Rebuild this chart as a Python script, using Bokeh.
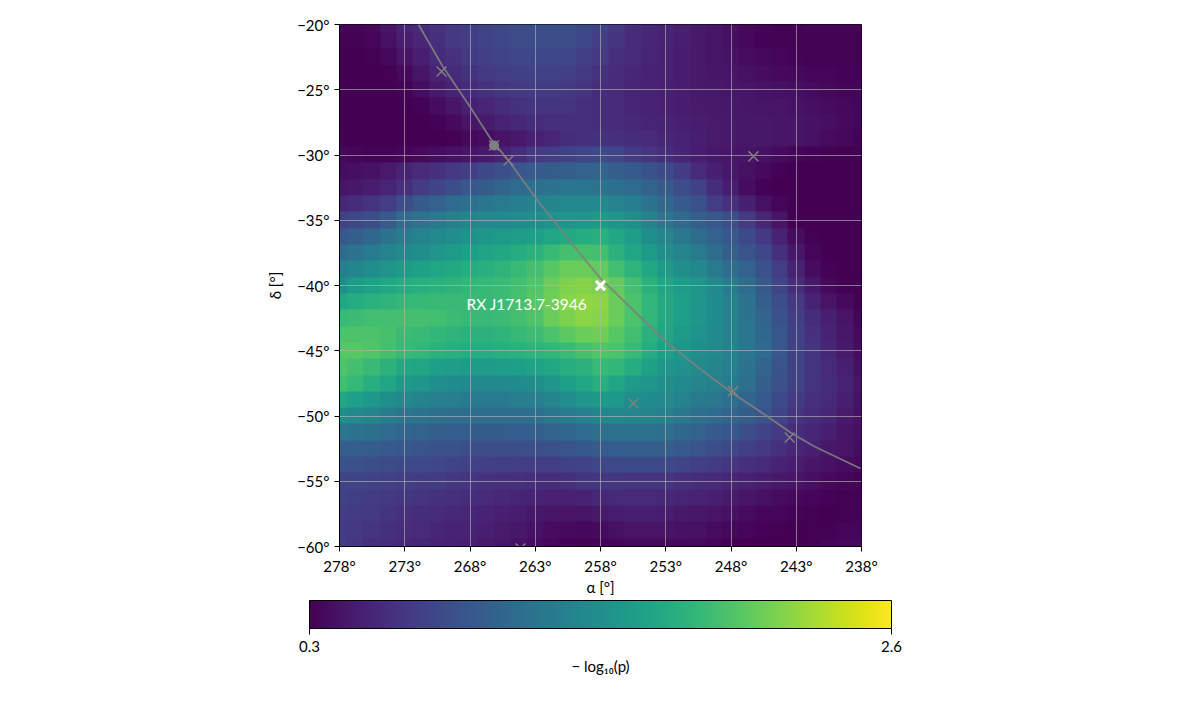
import numpy as np
from bokeh.plotting import figure
from bokeh.models import Range1d, LinearColorMapper, FixedTicker, Label, ColorBar, LinearAxis
from bokeh.palettes import Viridis256
from bokeh.embed import file_html
from bokeh.resources import INLINE

ra_ticks = [278, 273, 268, 263, 258, 253, 248, 243, 238]
dec_ticks = [-20, -25, -30, -35, -40, -45, -50, -55, -60]
ra_labels = ["278°", "273°", "268°", "263°", "258°", "253°", "248°", "243°", "238°"]
dec_labels = ["−20°", "−25°", "−30°", "−35°", "−40°", "−45°", "−50°", "−55°", "−60°"]
cbar_ticks = [0.3, 2.6]
cbar_labels = ["0.3", "2.6"]

# -log10(p), rows dec -20..-60, columns RA 278..238, 1.25 deg apart
pvals = [
 [.33,.33,.36,.44,.52,.58,.63,.68,.73,.77,.80,.83,.85,.85,.85,.82,.76,.68,.60,.56,.54,.50,.47,.44,.40,.36,.33,.31,.32,.33,.33,.33,.33],
 [.31,.31,.33,.40,.48,.55,.62,.68,.73,.77,.80,.83,.85,.85,.84,.80,.73,.65,.58,.55,.52,.49,.46,.43,.39,.35,.32,.31,.31,.31,.31,.31,.31],
 [.30,.30,.31,.35,.42,.49,.57,.63,.69,.74,.77,.79,.80,.80,.79,.74,.68,.61,.57,.54,.51,.48,.46,.43,.41,.37,.35,.33,.32,.31,.31,.31,.31],
 [.30,.30,.30,.31,.36,.43,.52,.58,.64,.69,.72,.74,.75,.75,.74,.69,.64,.59,.55,.53,.51,.48,.46,.44,.42,.40,.38,.36,.35,.34,.33,.32,.32],
 [.30,.30,.30,.30,.32,.38,.46,.52,.58,.63,.67,.69,.70,.70,.69,.65,.60,.57,.54,.52,.50,.48,.46,.45,.44,.42,.41,.40,.39,.37,.35,.34,.33],
 [.30,.30,.30,.30,.30,.32,.38,.44,.50,.55,.60,.63,.65,.65,.65,.62,.60,.57,.54,.52,.50,.48,.47,.46,.45,.44,.43,.42,.41,.39,.37,.35,.33],
 [.30,.30,.30,.30,.30,.30,.32,.36,.42,.47,.52,.56,.59,.61,.62,.62,.60,.58,.56,.54,.52,.50,.48,.47,.46,.45,.45,.44,.43,.41,.39,.36,.33],
 [.31,.30,.30,.30,.30,.30,.30,.31,.35,.38,.42,.46,.50,.55,.60,.63,.64,.62,.60,.57,.55,.52,.49,.47,.46,.45,.45,.44,.43,.40,.37,.35,.32],
 [.36,.34,.32,.32,.34,.36,.38,.40,.42,.46,.52,.60,.68,.72,.75,.78,.82,.78,.70,.65,.60,.54,.48,.45,.44,.42,.40,.37,.34,.32,.31,.30,.30],
 [.38,.39,.41,.47,.53,.58,.63,.68,.73,.80,.86,.91,.96,.98,1.0,1.02,1.05,1.0,.95,.88,.82,.70,.58,.50,.45,.40,.36,.32,.30,.30,.30,.30,.30],
 [.42,.45,.48,.54,.62,.70,.78,.85,.92,.98,1.05,1.10,1.15,1.18,1.2,1.2,1.18,1.14,1.1,1.03,.95,.85,.75,.60,.48,.38,.32,.30,.30,.30,.30,.30,.30],
 [.55,.60,.65,.72,.85,.95,1.02,1.10,1.15,1.2,1.25,1.28,1.32,1.36,1.38,1.38,1.38,1.32,1.28,1.18,1.08,.95,.88,.72,.62,.50,.40,.33,.30,.30,.30,.30,.30],
 [.75,.80,.85,.95,1.1,1.18,1.25,1.3,1.35,1.38,1.4,1.42,1.45,1.48,1.5,1.52,1.55,1.5,1.45,1.33,1.2,1.1,1.0,.92,.85,.70,.55,.42,.30,.30,.30,.30,.30],
 [.92,1.0,1.08,1.18,1.27,1.33,1.38,1.43,1.48,1.52,1.55,1.58,1.6,1.65,1.7,1.72,1.75,1.68,1.58,1.45,1.35,1.22,1.12,1.02,.92,.82,.68,.52,.38,.31,.30,.30,.30],
 [1.1,1.18,1.25,1.33,1.4,1.45,1.5,1.55,1.6,1.64,1.68,1.72,1.78,1.85,1.92,1.93,1.9,1.78,1.65,1.55,1.45,1.35,1.25,1.12,1.0,.90,.80,.62,.45,.34,.30,.30,.30],
 [1.28,1.35,1.43,1.5,1.57,1.62,1.66,1.7,1.73,1.76,1.8,1.85,1.92,2.0,2.07,2.08,2.05,1.9,1.8,1.68,1.55,1.45,1.37,1.25,1.12,1.02,.88,.72,.52,.38,.32,.30,.30],
 [1.45,1.55,1.62,1.67,1.72,1.75,1.78,1.8,1.82,1.84,1.87,1.92,1.98,2.08,2.15,2.17,2.15,2.05,1.92,1.78,1.65,1.57,1.5,1.38,1.25,1.12,.95,.78,.60,.45,.35,.31,.30],
 [1.65,1.72,1.77,1.8,1.83,1.84,1.85,1.85,1.85,1.86,1.88,1.93,2.0,2.1,2.18,2.22,2.2,2.08,1.95,1.82,1.7,1.6,1.52,1.42,1.3,1.18,1.0,.85,.68,.52,.42,.36,.31],
 [1.85,1.88,1.9,1.91,1.92,1.92,1.9,1.88,1.85,1.85,1.88,1.92,1.97,2.07,2.15,2.2,2.18,2.08,1.95,1.82,1.7,1.6,1.5,1.42,1.3,1.18,1.05,.88,.72,.60,.50,.42,.33],
 [1.95,1.96,1.96,1.93,1.88,1.85,1.82,1.8,1.78,1.78,1.8,1.84,1.88,1.95,2.02,2.08,2.1,2.0,1.9,1.78,1.65,1.55,1.48,1.4,1.3,1.2,1.07,.92,.75,.63,.52,.45,.36],
 [2.0,2.0,1.98,1.92,1.85,1.82,1.78,1.75,1.72,1.72,1.75,1.77,1.8,1.82,1.87,1.93,1.98,1.95,1.85,1.72,1.6,1.52,1.45,1.38,1.3,1.2,1.1,.92,.75,.65,.55,.47,.38],
 [1.97,1.92,1.85,1.78,1.7,1.65,1.6,1.58,1.56,1.56,1.58,1.6,1.63,1.68,1.73,1.78,1.85,1.82,1.72,1.62,1.52,1.46,1.4,1.35,1.28,1.18,1.05,.90,.75,.65,.57,.50,.40],
 [1.9,1.83,1.75,1.65,1.55,1.5,1.45,1.42,1.4,1.4,1.4,1.42,1.45,1.5,1.6,1.67,1.75,1.65,1.55,1.5,1.45,1.4,1.35,1.3,1.25,1.15,1.0,.87,.75,.65,.60,.52,.42],
 [1.68,1.6,1.53,1.45,1.38,1.33,1.3,1.28,1.26,1.26,1.26,1.28,1.3,1.35,1.43,1.5,1.55,1.53,1.45,1.42,1.38,1.33,1.25,1.22,1.15,1.05,.95,.82,.70,.62,.57,.50,.41],
 [1.45,1.4,1.35,1.27,1.2,1.18,1.15,1.13,1.12,1.12,1.12,1.13,1.15,1.2,1.25,1.3,1.36,1.37,1.35,1.33,1.3,1.22,1.15,1.1,1.05,.98,.90,.78,.65,.60,.55,.47,.40],
 [1.22,1.18,1.15,1.1,1.05,1.03,1.0,.99,.98,.98,.98,.99,1.0,1.03,1.06,1.1,1.15,1.17,1.18,1.17,1.15,1.08,1.03,.97,.92,.85,.78,.68,.60,.55,.50,.44,.39],
 [1.0,.99,.98,.95,.92,.90,.88,.87,.85,.85,.85,.85,.86,.87,.90,.93,.97,.99,1.0,1.0,1.0,.95,.90,.85,.80,.74,.68,.62,.55,.50,.45,.42,.38],
 [.88,.87,.85,.83,.82,.81,.79,.77,.75,.74,.73,.72,.72,.73,.75,.77,.80,.81,.82,.82,.82,.78,.74,.70,.66,.62,.57,.52,.48,.44,.41,.38,.35],
 [.78,.76,.75,.74,.72,.71,.70,.67,.65,.64,.62,.61,.60,.60,.62,.65,.67,.66,.65,.65,.65,.62,.60,.57,.55,.51,.48,.45,.42,.39,.36,.34,.32],
 [.75,.73,.71,.69,.67,.65,.64,.62,.60,.58,.56,.54,.52,.51,.51,.53,.56,.57,.57,.57,.56,.54,.52,.50,.47,.43,.40,.37,.35,.33,.32,.31,.32],
 [.72,.70,.68,.65,.62,.60,.58,.56,.55,.52,.50,.48,.45,.43,.42,.43,.46,.48,.50,.49,.48,.46,.45,.42,.40,.37,.34,.33,.32,.31,.30,.31,.32],
 [.71,.68,.65,.62,.59,.57,.55,.53,.52,.50,.47,.45,.41,.38,.36,.35,.37,.40,.42,.42,.42,.41,.40,.37,.35,.33,.32,.31,.30,.31,.31,.33,.34],
 [.70,.66,.62,.59,.56,.54,.52,.51,.50,.47,.45,.41,.38,.35,.32,.31,.32,.33,.35,.35,.35,.35,.35,.33,.30,.30,.30,.30,.30,.31,.33,.35,.36],
]

plane_ra = [271.95,270.13,267.96,266.43,265.05,262.83,259.76,258.0,253.02,250.41,247.96,245.09,243.44,241.68,238.08]
plane_dec = [-20,-23.14,-26.36,-28.74,-30.42,-33.49,-37.32,-39.46,-44.29,-46.36,-48.2,-50.11,-51.26,-52.3,-54.02]

src_ra = [270.18,266.16,265.05,246.28,255.47,247.85,243.5,264.13]
src_dec = [-23.6,-29.27,-30.42,-30.1,-49.04,-48.1,-51.65,-60.15]
center_ra = [266.16]
center_dec = [-29.27]
target_ra = [258]
target_dec = [-40]
target_name = "RX J1713.7-3946"

FONT = "Lato"
mapper = LinearColorMapper(palette=Viridis256, low=0.3, high=2.6)

p = figure(width=1184, height=704, x_range=Range1d(278, 238), y_range=Range1d(-60, -20),
           output_backend="svg", toolbar_location=None,
           min_border_left=339, min_border_right=323, min_border_top=24, min_border_bottom=158)
p.outline_line_color = "black"

arr = np.array(pvals)[::-1, ::-1]
p.image(image=[arr], x=237.375, y=-60.625, dw=41.25, dh=41.25, color_mapper=mapper, level="image")

p.line(plane_ra, plane_dec, line_color="#808080", line_width=1.8, line_alpha=0.9)
p.scatter(src_ra, src_dec, marker="x", size=14, line_color="#808080", line_width=1.5)
p.scatter(center_ra, center_dec, marker="circle", size=9, fill_color="#808080", line_color="#808080")
p.scatter(target_ra, target_dec, marker="x", size=13, line_color="white", line_width=3.2)
p.add_layout(Label(x=268.27, y=-41.45, text=target_name, text_color="white", text_font=FONT,
                   text_font_size="15.5px", text_baseline="middle", text_align="left"))

p.xaxis.ticker = FixedTicker(ticks=ra_ticks)
p.yaxis.ticker = FixedTicker(ticks=dec_ticks)
p.xaxis.major_label_overrides = dict(zip(ra_ticks, ra_labels))
p.yaxis.major_label_overrides = dict(zip(dec_ticks, dec_labels))
p.xaxis.axis_label = "α [°]"
p.yaxis.axis_label = "δ [°]"

for ax in [p.xaxis[0], p.yaxis[0]]:
    ax.major_tick_in = 0
    ax.major_tick_out = 5
    ax.minor_tick_in = 0
    ax.minor_tick_out = 0
    ax.axis_line_color = "black"
    ax.major_tick_line_color = "black"
    ax.major_label_text_font = FONT
    ax.major_label_text_font_size = "15px"
    ax.major_label_text_color = "black"
    ax.axis_label_text_font = FONT
    ax.axis_label_text_font_size = "15px"
    ax.axis_label_text_font_style = "normal"
    ax.axis_label_text_color = "black"
    ax.major_label_standoff = 5
p.xaxis[0].axis_label_standoff = 0
p.yaxis[0].axis_label_standoff = 10

p.xgrid.ticker = FixedTicker(ticks=ra_ticks)
p.ygrid.ticker = FixedTicker(ticks=dec_ticks)
p.grid.grid_line_color = "#b4b4b4"
p.grid.grid_line_alpha = 0.65
p.grid.grid_line_width = 1

cbar = ColorBar(color_mapper=mapper, location=(-30, -108), width=582, height=28, padding=0,
                orientation="horizontal", ticker=FixedTicker(ticks=cbar_ticks),
                major_label_overrides=dict(zip(cbar_ticks, cbar_labels)),
                major_tick_in=0, major_tick_out=6, major_tick_line_color="black",
                minor_tick_line_color=None, bar_line_color="black", border_line_color=None,
                background_fill_color=None, label_standoff=6,
                major_label_text_font=FONT, major_label_text_font_size="15px",
                major_label_text_color="black")
p.add_layout(cbar, "center")

cb_title = LinearAxis(ticker=FixedTicker(ticks=[]), axis_line_color=None, major_tick_line_color=None,
                      minor_tick_line_color=None, axis_label="− log₁₀(p)",
                      axis_label_text_font=FONT, axis_label_text_font_size="15px",
                      axis_label_text_font_style="normal", axis_label_text_color="black",
                      axis_label_standoff=58)
p.add_layout(cb_title, "below")

open("out.html", "w").write(file_html(p, INLINE))
